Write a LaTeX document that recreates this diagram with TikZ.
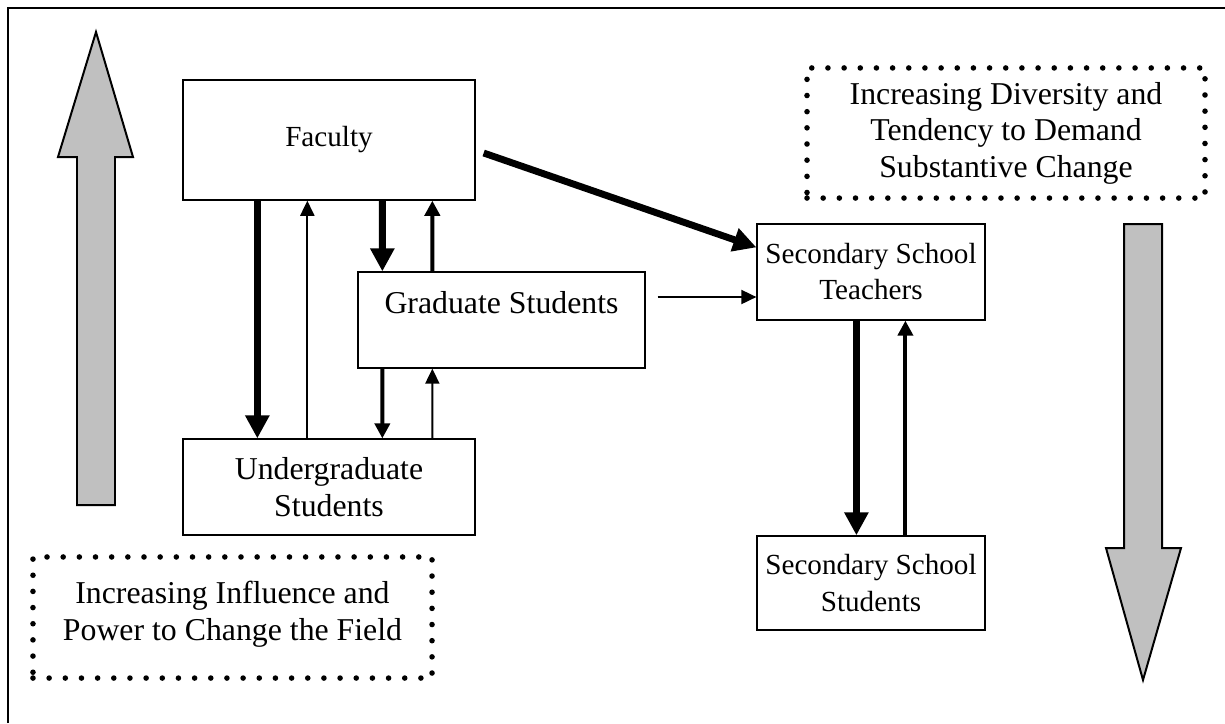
\documentclass[tikz,border=0pt]{standalone}
\usepackage{fontspec}
\setmainfont{Liberation Serif}
\usepackage{xcolor}
\usepackage{tikz}
\usetikzlibrary{arrows.meta,calc}
\definecolor{shaft}{HTML}{C0C0C0}
\begin{document}
\begin{tikzpicture}[x=0.3774pt,y=-0.3774pt,
      every node/.style={font=\fontsize{12pt}{13.8pt}\selectfont},
      group/.style={draw,line width=0.5pt,align=center,inner sep=0pt},
      small/.style={font=\fontsize{11pt}{13.6pt}\selectfont},
      note/.style={draw,line width=2.1pt,dash pattern=on 0pt off 6.1pt,line cap=round,align=center,inner sep=0pt},
      bigarrow/.style={draw,fill=shaft,line width=0.75pt,line join=miter},
      thickarr/.style={line width=2.6pt,-{Triangle[length=8.7pt,width=8.7pt]}},
      medarr/.style={line width=1.5pt,-{Triangle[length=5.7pt,width=5.7pt]}},
      thinarr/.style={line width=0.75pt,-{Triangle[length=5.7pt,width=5.3pt]}}]
      \useasboundingbox (0,0) rectangle (1225,723);
      \draw[line width=0.75pt] (8,723)--(8,8)--(1225,8);
      % groups
      \node[group,small,minimum width=110.2pt,minimum height=45.3pt] (faculty) at (329,140) {Faculty};
      \node[group,minimum width=108.3pt,minimum height=36.2pt,text depth=13pt] (grad) at (501.5,320) {Graduate Students};
      \node[group,minimum width=110.2pt,minimum height=36.2pt] (under) at (329,487) {Undergraduate\\Students};
      \node[group,small,minimum width=86pt,minimum height=36.2pt] (teachers) at (871,272) {Secondary School\\Teachers};
      \node[group,small,minimum width=86pt,minimum height=35.5pt] (pupils) at (871,583) {Secondary School\\Students};
      % notes
      \node[note,minimum width=150.2pt,minimum height=49.1pt] (diversity) at (1006,133) {Increasing Diversity and\\Tendency to Demand\\Substantive Change};
      \node[note,minimum width=150.6pt,minimum height=45.7pt,text depth=5pt] (influence) at (232.5,617.5) {Increasing Influence and\\Power to Change the Field};
      % big arrows
      \draw[bigarrow] (77,505)--(77,157)--(58,157)--(96,32)--(133,157)--(115,157)--(115,505)--cycle;
      \draw[bigarrow] (1124,224)--(1162,224)--(1162,548)--(1181,548)--(1143,680)--(1106,548)--(1124,548)--cycle;
      % flows
      \draw[thickarr] ($(faculty.south west)+(75,0)$)--($(under.north west)+(75,0)$);
      \draw[thinarr] ($(under.north west)+(125,0)$)--($(faculty.south west)+(125,0)$);
      \draw[thickarr] ($(faculty.south west)+(200,0)$)--($(grad.north west)+(25,0)$);
      \draw[medarr] ($(grad.north west)+(75,0)$)--($(faculty.south west)+(250,0)$);
      \draw[medarr] ($(grad.south west)+(25,0)$)--($(under.north west)+(200,0)$);
      \draw[thinarr] ($(under.north west)+(250,0)$)--($(grad.south west)+(75,0)$);
      \draw[thickarr] ($(faculty.east)+(8,13)$)--($(teachers.north west)+(0,24)$);
      \draw[thinarr] ($(grad.east)+(12,-23)$)--($(teachers.west)+(0,25)$);
      \draw[thickarr] ($(teachers.south west)+(100,0)$)--($(pupils.north west)+(100,0)$);
      \draw[medarr] ($(pupils.north west)+(149,0)$)--($(teachers.south west)+(149,0)$);
    \end{tikzpicture}
\end{document}
